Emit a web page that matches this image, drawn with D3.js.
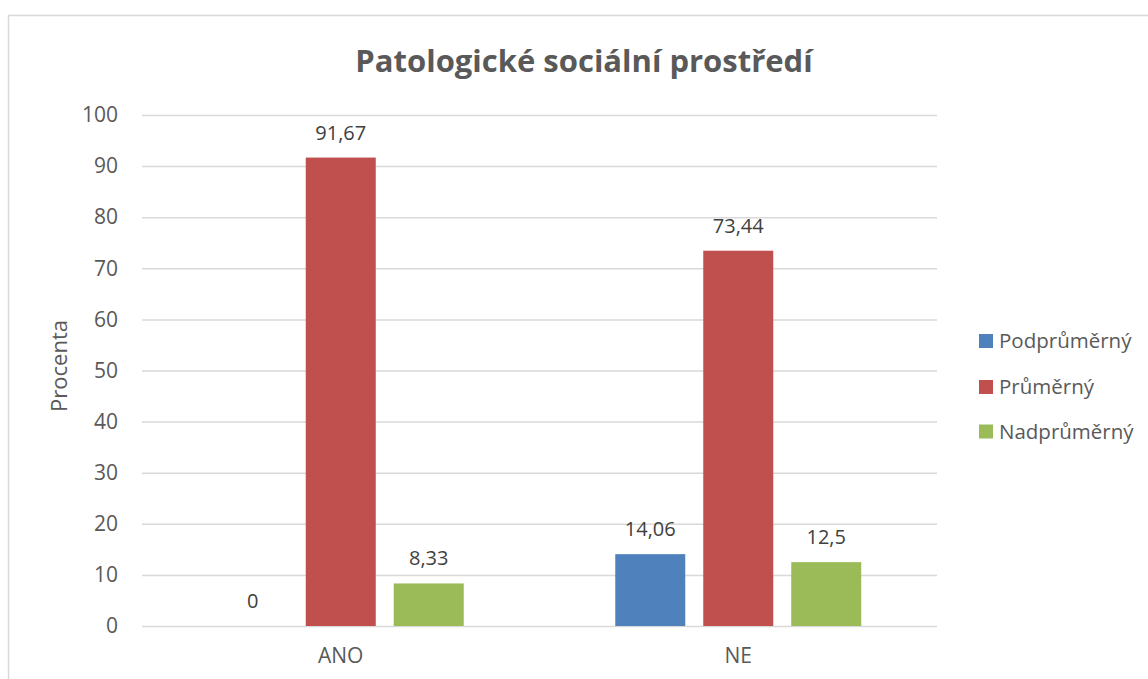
<!DOCTYPE html>
<html>
<head>
<meta charset="utf-8">
<script src="https://cdn.jsdelivr.net/npm/d3@7"></script>
<style>
  body { margin: 0; background: #fff; }
  svg { display: block; font-family: "Open Sans", sans-serif; }
</style>
</head>
<body>
<svg id="graf" width="1148" height="679"></svg>
<script>
// data
const kategorie = ["ANO", "NE"];
const serie = ["Podprůměrný", "Průměrný", "Nadprůměrný"];
const podprumerny = [0, 14.06];
const prumerny = [91.67, 73.44];
const nadprumerny = [8.33, 12.5];
const yTicks = [0, 10, 20, 30, 40, 50, 60, 70, 80, 90, 100];
const barvy = ["#4F81BD", "#C0504D", "#9BBB59"];

const hodnoty = [podprumerny, prumerny, nadprumerny];

const svg = d3.select("#graf");

// ramecek
svg.append("path")
    .attr("d", "M8.5,679 L8.5,15.5 L1148,15.5")
    .attr("fill", "none")
    .attr("stroke", "#d9d9d9")
    .attr("stroke-width", 1.5);

const plotL = 142, plotR = 937, plotT = 115, plotB = 626;

const y = d3.scaleLinear().domain([0, 100]).range([plotB, plotT]);
const x0 = d3.scaleBand().domain(kategorie).range([plotL, plotR]).padding(0);
const x1 = d3.scaleBand().domain(serie).range([0, x0.bandwidth()])
    .paddingInner(0.2045).paddingOuter(0.861);

// mrizka
const yAxis = d3.axisLeft(y).tickValues(yTicks).tickSize(-(plotR - plotL)).tickPadding(24);
const gy = svg.append("g").attr("transform", `translate(${plotL},0)`).call(yAxis);
gy.select(".domain").remove();
gy.selectAll(".tick line").attr("stroke", "#d9d9d9").attr("stroke-width", 1.5);
gy.selectAll(".tick text")
    .attr("fill", "#595959")
    .style("font-size", "21px")
    .style("font-family", "Open Sans");

// kategorie
const xAxis = d3.axisBottom(x0).tickSize(0).tickPadding(22);
const gx = svg.append("g").attr("transform", `translate(0,${plotB})`).call(xAxis);
gx.select(".domain").remove();
gx.selectAll(".tick text")
    .attr("fill", "#595959")
    .style("font-size", "21px")
    .style("font-family", "Open Sans");

// sloupce
const data = [];
kategorie.forEach((k, i) => {
    serie.forEach((s, j) => {
        data.push({ kat: k, ser: s, val: hodnoty[j][i], barva: barvy[j] });
    });
});

svg.selectAll("rect.bar")
    .data(data)
    .enter()
    .append("rect")
    .attr("class", "bar")
    .attr("x", d => x0(d.kat) + x1(d.ser))
    .attr("y", d => y(d.val))
    .attr("width", x1.bandwidth())
    .attr("height", d => plotB - y(d.val))
    .attr("fill", d => d.barva);

svg.selectAll("text.lbl")
    .data(data)
    .enter()
    .append("text")
    .attr("class", "lbl")
    .attr("x", d => x0(d.kat) + x1(d.ser) + x1.bandwidth() / 2)
    .attr("y", d => y(d.val) - 25)
    .attr("dy", "0.35em")
    .attr("text-anchor", "middle")
    .attr("fill", "#404040")
    .style("font-size", "20px")
    .text(d => String(d.val).replace(".", ","));

// titulek
svg.append("text")
    .attr("x", 584)
    .attr("y", 72)
    .attr("text-anchor", "middle")
    .attr("fill", "#595959")
    .style("font-size", "31px")
    .style("font-weight", "bold")
    .text("Patologické sociální prostředí");

// osa y popisek
svg.append("text")
    .attr("transform", "translate(59,366) rotate(-90)")
    .attr("text-anchor", "middle")
    .attr("dy", "0.35em")
    .attr("fill", "#595959")
    .style("font-size", "22px")
    .text("Procenta");

// legenda
const leg = svg.append("g").attr("transform", "translate(979,0)");
const legY = [341, 387, 431.5];
serie.forEach((s, i) => {
    leg.append("rect")
        .attr("x", 0)
        .attr("y", legY[i] - 7)
        .attr("width", 14)
        .attr("height", 14)
        .attr("fill", barvy[i]);
    leg.append("text")
        .attr("x", 20)
        .attr("y", legY[i])
        .attr("dy", "0.35em")
        .attr("fill", "#595959")
        .style("font-size", "20.5px")
        .text(s);
});
</script>
</body>
</html>
